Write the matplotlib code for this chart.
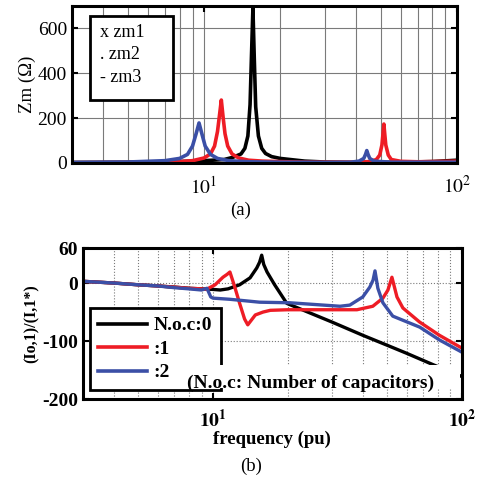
import matplotlib
matplotlib.use('Agg')
import matplotlib.pyplot as plt
from matplotlib.ticker import LogLocator, NullFormatter
from matplotlib.patches import Rectangle
from matplotlib.lines import Line2D

plt.rcParams['font.family'] = ['Liberation Serif', 'DejaVu Serif']
plt.rcParams['mathtext.fontset'] = 'stix'
plt.rcParams['axes.unicode_minus'] = False

RED = '#ee1c25'
BLUE = '#3b4fa6'

# (a) Zm, Ohm
f_zm1 = [3, 5, 8, 10, 12, 13, 14, 14.5, 14.9, 15.2, 15.4, 15.6, 15.8, 16.0, 16.4, 16.9, 17.5, 18.5, 20, 25, 30, 40, 60, 80, 100]
zm1 = [2, 3, 6, 10, 15, 25, 40, 65, 120, 260, 480, 690, 460, 250, 120, 65, 42, 28, 20, 8, 4, 2, 3, 6, 12]

f_zm2 = [3, 5, 7, 8, 9, 10, 10.6, 11.0, 11.3, 11.5, 11.7, 11.9, 12.1, 12.4, 12.9, 13.7, 15, 17, 25, 40, 45, 48, 49.5, 50.5, 51.0, 51.4, 51.8, 52.3, 53.5, 55, 60, 70, 100]
zm2 = [1, 2, 4, 6, 10, 22, 40, 75, 140, 210, 280, 200, 130, 75, 40, 22, 12, 8, 3, 3, 6, 15, 35, 80, 130, 173, 130, 80, 35, 15, 7, 5, 8]

f_zm3 = [3, 5, 7, 8, 8.6, 9.0, 9.3, 9.55, 9.8, 10.1, 10.6, 11.3, 12.5, 15, 20, 30, 38, 41, 42.8, 43.5, 44, 44.5, 45.2, 47, 55, 100]
zm3 = [2, 4, 10, 20, 38, 75, 130, 178, 130, 75, 38, 20, 10, 5, 3, 2, 3, 8, 20, 38, 55, 38, 20, 8, 3, 3]

# (b) (Io,1)/(I,1*) for different number of capacitors
f_c0 = [3, 4, 5, 6, 7, 8, 9, 10, 10.7, 11.5, 12.8, 14.1, 15.0, 15.4, 15.7, 16.0, 16.5, 17.7, 19.8, 25, 30, 40, 50, 60, 77, 100]
c0 = [3, 0, -3, -5, -7, -9, -10, -11, -12, -10, -3, 9, 26, 36, 48, 32, 19, -3, -35, -53, -67, -90, -107, -121, -141, -161]

f_c1 = [3, 4, 5, 6, 7, 8, 9, 9.4, 10.2, 10.97, 11.4, 11.7, 12.2, 12.8, 13.4, 13.8, 14.8, 15.9, 17, 20, 25, 30, 37.9, 43.9, 48.2, 50.5, 52.4, 54.9, 58, 67.6, 81.3, 100]
c1 = [3, 0, -3, -5, -7, -9, -10, -11, -3, 10, 15, 19, -5, -35, -62, -72, -55, -50, -47, -46, -46, -46, -46, -40, -26, -12, 10, -24, -43, -67, -90, -112]

f_c2 = [3, 4, 5, 6, 7, 8, 9, 9.46, 9.8, 10, 11.7, 15.4, 20.4, 32.4, 35.5, 40, 42.7, 44.0, 44.8, 46, 48.2, 52.8, 67.8, 81.3, 100]
c2 = [3, 0, -3, -5, -8, -10, -12, -9, -24, -26, -28, -33, -34, -40, -38, -24, -7, 5, 21, -9, -34, -57, -76, -98, -119]

legend_b = ['N.o.c:0', ':1', ':2']


def setup_log_axis(ax, bold=False, grid_style='-'):
    '''
    Логарифмическая ось частоты 3..100 с сеткой по всем декадам
    '''
    ax.set_xscale('log')
    ax.set_xlim(3, 100)
    ax.xaxis.set_minor_locator(LogLocator(base=10, subs=range(2, 10)))
    ax.xaxis.set_minor_formatter(NullFormatter())
    ax.set_xticks([10, 100])
    if bold:
        ax.set_xticklabels([r'$\mathbf{10^{1}}$', r'$\mathbf{10^{2}}$'])
    else:
        ax.set_xticklabels([r'$10^{1}$', r'$10^{2}$'])
    ax.tick_params(which='major', direction='in', top=True, right=True,
                   length=4, width=1.5, labelsize=14)
    ax.tick_params(axis='x', which='major', pad=9)
    ax.tick_params(which='minor', length=0)
    ax.grid(True, which='both', color='#7a7a7a', linestyle=grid_style, linewidth=0.8)
    for s in ax.spines.values():
        s.set_linewidth(2.2)


fig = plt.figure(figsize=(4.79, 4.82), dpi=100)

# ---- (a)
ax1 = fig.add_axes([0.150, 0.662, 0.804, 0.326])
ax1.plot(f_zm1, zm1, color='black', lw=2.6)
ax1.plot(f_zm2, zm2, color=RED, lw=2.6)
ax1.plot(f_zm3, zm3, color=BLUE, lw=2.6)
setup_log_axis(ax1)
ax1.set_ylim(0, 700)
ax1.set_yticks([0, 200, 400, 600])
ax1.set_ylabel('Zm (\u03a9)', fontsize=13.5, labelpad=1)

ax1.add_patch(Rectangle((0.047, 0.401), 0.215, 0.535, transform=ax1.transAxes,
                        facecolor='white', edgecolor='black', lw=2, zorder=5))
for y, s in zip([0.828, 0.688, 0.541], ['x zm1', '. zm2', '- zm3']):
    ax1.text(0.073, y, s, transform=ax1.transAxes, fontsize=13,
             va='center', ha='left', zorder=6)

fig.text(0.503, 0.564, '(a)', ha='center', va='center', fontsize=13.5)

# ---- (b)
ax2 = fig.add_axes([0.173, 0.172, 0.791, 0.313])
ax2.plot(f_c0, c0, color='black', lw=2.4)
ax2.plot(f_c1, c1, color=RED, lw=2.4)
ax2.plot(f_c2, c2, color=BLUE, lw=2.4)
setup_log_axis(ax2, bold=True, grid_style=':')
ax2.tick_params(axis='x', which='major', pad=7)
ax2.set_ylim(-200, 60)
ax2.set_yticks([-200, -100, 0, 60])
for lab in ax2.get_yticklabels():
    lab.set_fontweight('bold')
ax2.set_ylabel('(Io,1)/(I,1*)', fontsize=11.5, fontweight='bold', labelpad=2)
ax2.set_xlabel('frequency (pu)', fontsize=13.5, fontweight='bold', labelpad=0)

handles = [Line2D([], [], color=c, lw=2.6) for c in ['black', RED, BLUE]]
leg = ax2.legend(handles, legend_b, loc='upper left', bbox_to_anchor=(0.018, 0.603),
                 prop={'weight': 'bold', 'size': 14}, frameon=True, fancybox=False,
                 edgecolor='black', framealpha=1, handlelength=2.5,
                 handletextpad=0.35, labelspacing=0.3, borderpad=0.45,
                 borderaxespad=0)
leg.get_frame().set_linewidth(2)
leg.set_zorder(5)

ax2.add_patch(Rectangle((0.27, 0.073), 0.725, 0.152, transform=ax2.transAxes,
                        facecolor='white', edgecolor='none', zorder=6))
ax2.text(0.602, 0.106, '(N.o.c: Number of capacitors)', transform=ax2.transAxes,
         fontsize=14, fontweight='bold', ha='center', va='center', zorder=7)

fig.text(0.524, 0.033, '(b)', ha='center', va='center', fontsize=13.5)

fig.savefig('out.png', dpi=100)
